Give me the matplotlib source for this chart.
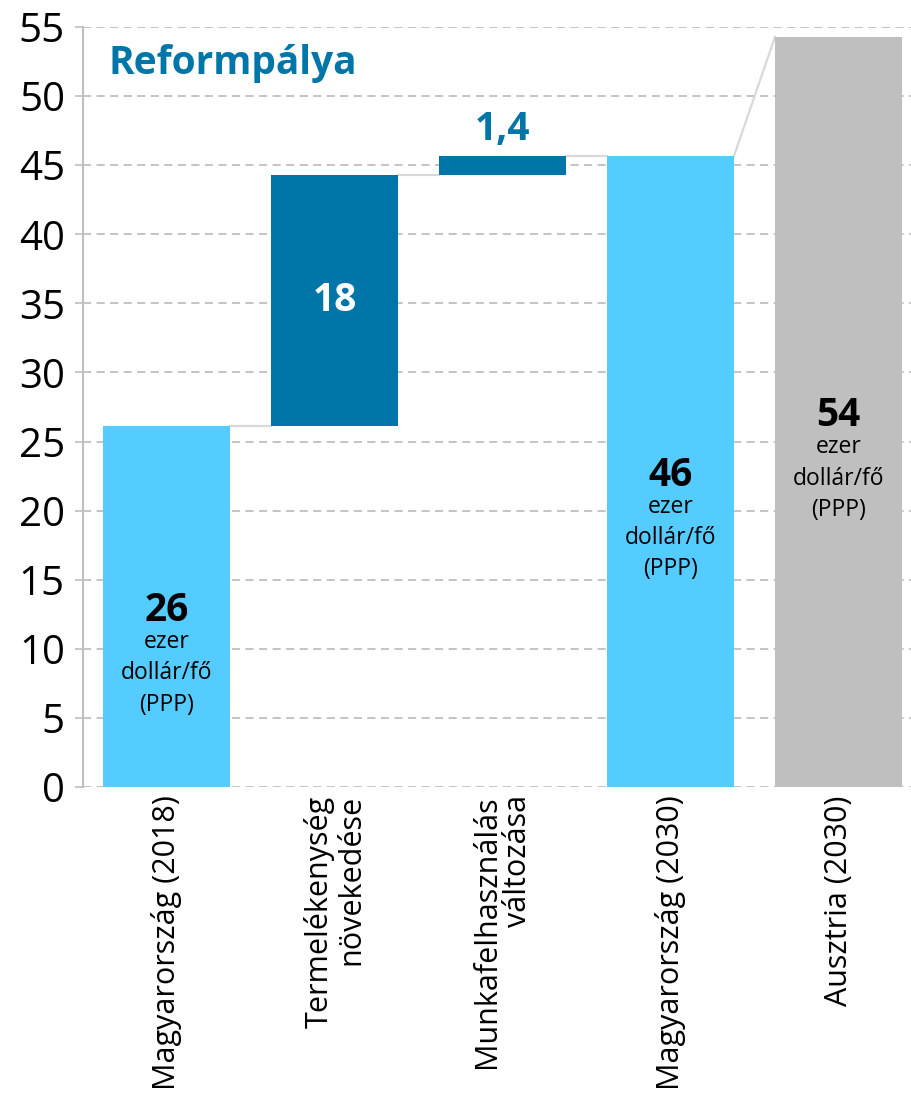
import matplotlib.pyplot as plt
import numpy as np

plt.rcParams["font.family"] = ["Open Sans", "DejaVu Sans"]

categories = [
    "Magyarország (2018)",
    "Termelékenység\nnövekedése",
    "Munkafelhasználás\nváltozása",
    "Magyarország (2030)",
    "Ausztria (2030)",
]
values = [26.1, 18.2, 1.4, 45.7, 54.3]
is_total = [True, False, False, True, True]
value_labels = ["26", "18", "1,4", "46", "54"]
unit_text = "ezer\ndollár/fő\n(PPP)"

light_blue = "#55CCFF"
dark_blue = "#0076A8"
grey = "#BFBFBF"
colors = [light_blue, dark_blue, dark_blue, light_blue, grey]

# waterfall bottoms
bottoms = []
running = 0
for v, tot in zip(values, is_total):
    if tot:
        bottoms.append(0)
        running = v
    else:
        bottoms.append(running)
        running += v
tops = [b + v for b, v in zip(bottoms, values)]

fig = plt.figure(figsize=(9.12, 11.10), dpi=100)
ax = fig.add_axes([83 / 912, 1 - 787 / 1110, (922.5 - 83) / 912, (787 - 27) / 1110])

x = np.arange(len(categories))
width = 0.756

ax.bar(x, values, width, bottom=bottoms, color=colors, zorder=3)

# connector lines (last one goes up to the Austria bar)
for i in range(len(x) - 1):
    y_end = tops[i + 1] if i + 1 == len(x) - 1 else tops[i]
    ax.plot(
        [x[i] + width / 2, x[i + 1] - width / 2],
        [tops[i], y_end],
        color="#D9D9D9",
        lw=1.6,
        zorder=2,
    )

ax.set_xlim(-0.5, len(x) - 0.5)
ax.set_ylim(0, 55)
ax.set_yticks(range(0, 56, 5))
ax.grid(axis="y", color=grey, linestyle=(0, (4.5, 3)), lw=1.3, zorder=0)

for s in ["top", "right", "bottom"]:
    ax.spines[s].set_visible(False)
ax.spines["left"].set_color("#BFBFBF")
ax.spines["left"].set_linewidth(1.5)

ax.tick_params(axis="y", labelsize=29, length=6, color=grey, pad=7, width=1.2)
ax.tick_params(axis="x", length=0, pad=6)
ax.set_xticks(x)
ax.set_xticklabels(categories, rotation=90, fontsize=22, va="top", ha="center",
                   multialignment="right", linespacing=1.05)

# value labels
for i in range(len(x)):
    mid = bottoms[i] + values[i] / 2
    if i == 0 or i >= 3:
        ax.text(x[i], mid - 0.3, value_labels[i], ha="center", va="center",
                fontsize=28, fontweight="bold", color="black", zorder=4)
        ax.text(x[i], mid - 1.7, unit_text, ha="center", va="top",
                fontsize=16.5, color="black", linespacing=1.4, zorder=4)
    elif values[i] > 5:
        ax.text(x[i], mid, value_labels[i], ha="center", va="center",
                fontsize=28, fontweight="bold", color="white", zorder=4)
    else:
        ax.text(x[i], tops[i] + 0.5, value_labels[i], ha="center", va="bottom",
                fontsize=28, fontweight="bold", color=dark_blue, zorder=4)

ax.text(0.03, 0.978, "Reformpálya", transform=ax.transAxes, ha="left", va="top",
        fontsize=28, fontweight="bold", color=dark_blue)

fig.savefig("out.png", dpi=100)
